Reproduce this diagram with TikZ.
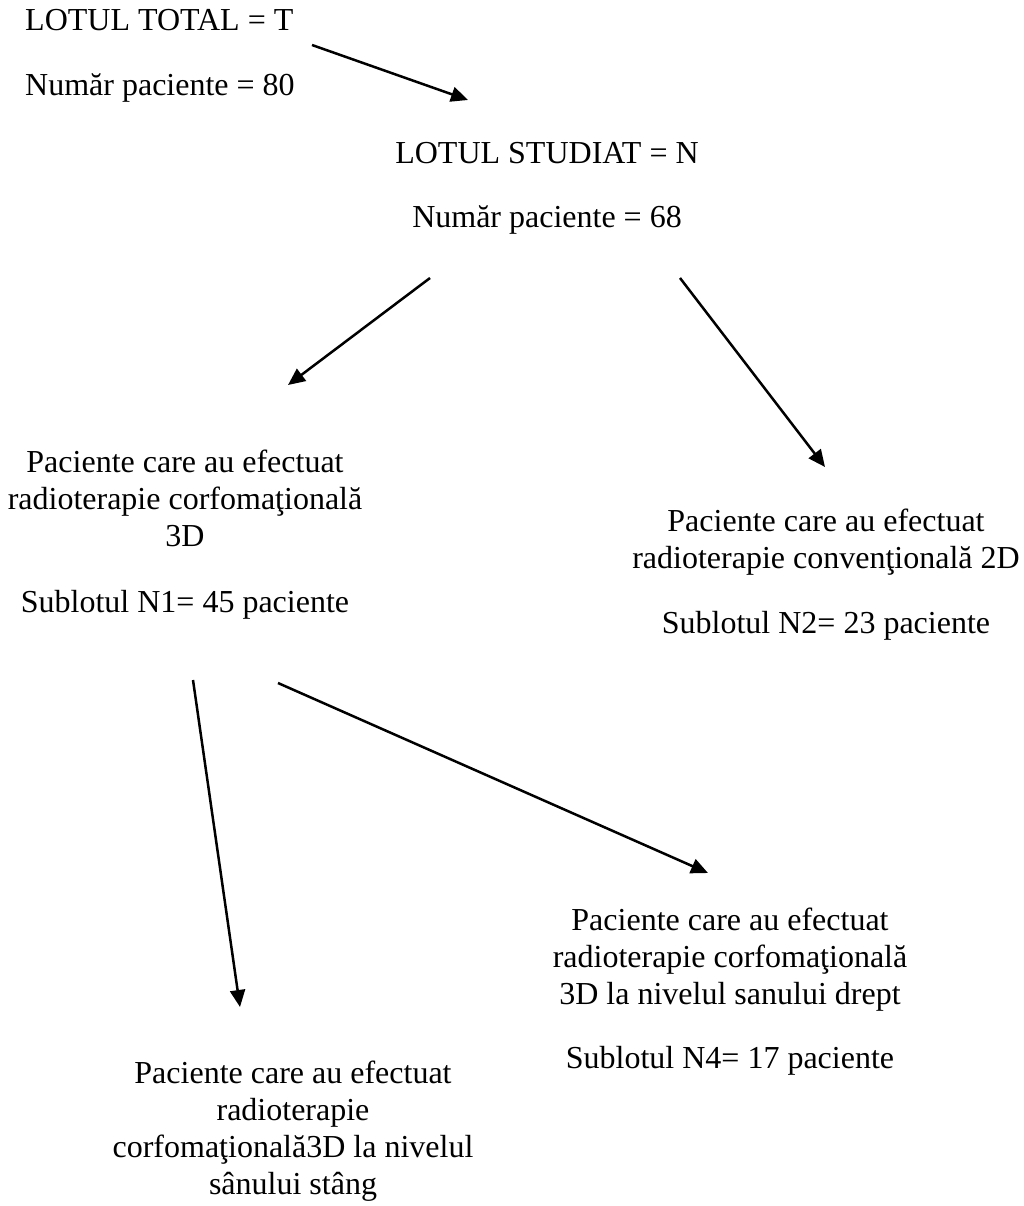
\documentclass[tikz,border=0pt]{standalone}
\usepackage{fontspec}
\setmainfont{Liberation Serif}
\usetikzlibrary{arrows.meta}
\begin{document}
\begin{tikzpicture}[x=1pt,y=1pt,
  txt/.style={inner sep=0pt,anchor=base,font=\fontsize{32}{37}\selectfont},
  ltxt/.style={txt,anchor=base west},
  conn/.style={line width=2.5pt,-{Triangle[length=17pt,width=15pt]}}]
\useasboundingbox[fill=white] (0,0) rectangle (1023,-1206);
% top-left block
\node[ltxt] (ta) at (25,-31) {LOTUL TOTAL = T};
\node[ltxt] (tb) at (25,-96) {Număr paciente = 80};
% studied block
\node[txt] (sa) at (547,-164) {LOTUL STUDIAT = N};
\node[txt] (sb) at (547,-228) {Număr paciente = 68};
% N1
\node[txt] (n1a) at (185,-472) {Paciente care au efectuat};
\node[txt] (n1b) at (185,-509) {radioterapie corfomaţională};
\node[txt] (n1c) at (185,-546) {3D};
\node[txt] (n1d) at (185,-612) {Sublotul N1= 45 paciente};
% N2
\node[txt] (n2a) at (826,-531) {Paciente care au efectuat};
\node[txt] (n2b) at (826,-568) {radioterapie convenţională 2D};
\node[txt] (n2c) at (826,-633) {Sublotul N2= 23 paciente};
% N4
\node[txt] (n4a) at (730,-930) {Paciente care au efectuat};
\node[txt] (n4b) at (730,-967) {radioterapie corfomaţională};
\node[txt] (n4c) at (730,-1004) {3D la nivelul sanului drept};
\node[txt] (n4d) at (730,-1068) {Sublotul N4= 17 paciente};
% N3 (bottom)
\node[txt] (n3a) at (293,-1083) {Paciente care au efectuat};
\node[txt] (n3b) at (293,-1120) {radioterapie};
\node[txt] (n3c) at (293,-1157) {corfomaţională3D la nivelul};
\node[txt] (n3d) at (293,-1194) {sânului stâng};
% arrow end points
\coordinate (a1s) at (312,-45);  \coordinate (a1e) at (468,-100);
\coordinate (a2s) at (430,-278); \coordinate (a2e) at (288,-385);
\coordinate (a3s) at (680,-278); \coordinate (a3e) at (825,-467);
\coordinate (a4s) at (193,-680); \coordinate (a4e) at (240,-1007);
\coordinate (a5s) at (278,-683); \coordinate (a5e) at (708,-873);
\draw[conn] (a1s) -- (a1e);
\draw[conn] (a2s) -- (a2e);
\draw[conn] (a3s) -- (a3e);
\draw[conn] (a4s) -- (a4e);
\draw[conn] (a5s) -- (a5e);
\end{tikzpicture}
\end{document}
